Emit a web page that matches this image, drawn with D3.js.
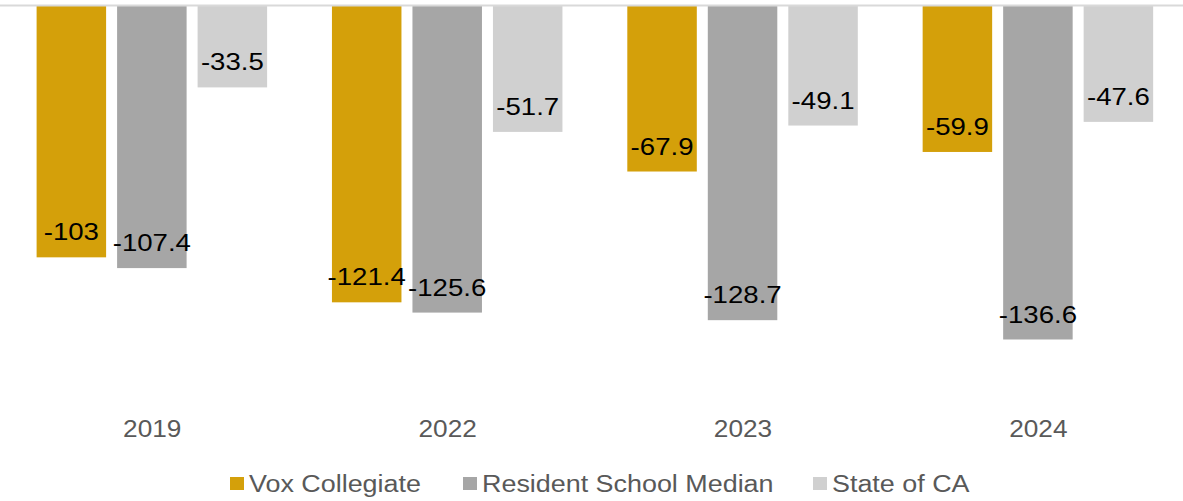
<!DOCTYPE html>
<html><head><meta charset="utf-8">
<script src="https://cdn.jsdelivr.net/npm/d3@7"></script>
<style>html,body{margin:0;padding:0;background:#fff;}svg{display:block;font-family:"Liberation Sans",Arial,sans-serif;}</style>
</head><body>
<svg id="c" width="1183" height="501"></svg>
<script>
const years = ["2019","2022","2023","2024"];
const seriesNames = ["Vox Collegiate","Resident School Median","State of CA"];
const vox = [-103, -121.4, -67.9, -59.9];
const resident = [-107.4, -125.6, -128.7, -136.6];
const stateCA = [-33.5, -51.7, -49.1, -47.6];
const colors = ["#D4A00A","#A6A6A6","#D0D0D0"];

const seriesVals = [vox, resident, stateCA];
const data = years.map((y,i)=>({year:y, vals: seriesNames.map((s,j)=>({s, v: seriesVals[j][i], j}))}));

const svg = d3.select("#c");
const W = 1183, H = 501;
svg.append("rect").attr("width",W).attr("height",H).attr("fill","#fff");

const y = d3.scaleLinear().domain([0,-160]).range([5.5, 5.5+160*2.445]);
const x0 = d3.scaleBand().domain(years).range([4.6, 1186]).padding(0);
const x1 = d3.scaleBand().domain(seriesNames).range([32, 262.5]).paddingInner(0.1366).paddingOuter(0);
const color = d3.scaleOrdinal().domain(seriesNames).range(colors);

const g = svg.append("g");
const groups = g.selectAll("g.grp").data(data).join("g").attr("class","grp")
  .attr("transform", d=>`translate(${x0(d.year)},0)`);

groups.selectAll("rect").data(d=>d.vals).join("rect")
  .attr("x", d=>x1(d.s)).attr("width", x1.bandwidth())
  .attr("y", y(0)).attr("height", d=>y(d.v)-y(0))
  .attr("fill", d=>color(d.s));

// zero line
svg.append("line").attr("x1",0).attr("x2",W).attr("y1",y(0)).attr("y2",y(0))
  .attr("stroke","#D9D9D9").attr("stroke-width",2);

groups.selectAll("text.lbl").data(d=>d.vals).join("text").attr("class","lbl")
  .attr("transform", d=>`translate(${x1(d.s)+x1.bandwidth()/2},${y(d.v)-25}) scale(1.2,1)`)
  .attr("dy","0.35em")
  .attr("text-anchor","middle")
  .attr("font-size",23)
  .attr("fill","#000")
  .text(d=>d.v);

// category axis labels
const xAxis = d3.axisBottom(x0).tickSize(0).tickPadding(0);
const ax = svg.append("g").attr("transform","translate(0,421)").call(xAxis);
ax.select(".domain").remove();
ax.selectAll("text").attr("font-size",23).attr("fill","#595959")
  .attr("font-family","Liberation Sans, Arial, sans-serif")
  .attr("transform","scale(1.14,1)")
  .attr("x", function(){ return 0; });
ax.selectAll(".tick").each(function(){
  const t = d3.select(this).select("text");
  t.attr("transform","scale(1.14,1)");
});

// legend
const legX = [230, 463, 813];
const leg = svg.append("g").selectAll("g").data(seriesNames).join("g")
  .attr("transform",(d,i)=>`translate(${legX[i]},484)`);
leg.append("rect").attr("x",0).attr("y",-7).attr("width",14).attr("height",13).attr("fill",d=>color(d));
leg.append("text").attr("transform","translate(19,0) scale(1.17,1)").attr("dy","0.35em")
  .attr("font-size",23).attr("fill","#595959").text(d=>d);
</script>
</body></html>
